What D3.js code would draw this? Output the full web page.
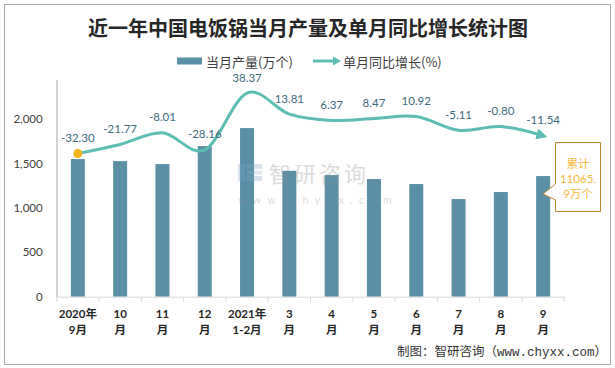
<!DOCTYPE html>
<html><head><meta charset="utf-8">
<script src="https://cdn.jsdelivr.net/npm/d3@7"></script>
<style>
html,body{margin:0;padding:0;background:#fff;}
svg{display:block;}
</style></head>
<body>
<svg id="chart" width="615" height="368"></svg>
<script>
// ---- data ----
const catLine1 = ["2020年","10","11","12","2021年","3","4","5","6","7","8","9"];
const catLine2 = ["9月","月","月","月","1-2月","月","月","月","月","月","月","月"];
const production = [1549, 1526, 1493, 1695, 1898, 1417, 1369, 1324, 1268, 1099, 1178, 1358];
const growth = [-32.30, -21.77, -8.01, -28.16, 38.37, 13.81, 6.37, 8.47, 10.92, -5.11, -0.80, -11.54];
const yTicks = [0, 500, 1000, 1500, 2000];
const seriesNames = ["当月产量(万个)", "单月同比增长(%)"];
const titleText = "近一年中国电饭锅当月产量及单月同比增长统计图";
const noteLines = ["累计", "11065.", "9万个"];
const sourceText = "制图：智研咨询（www.chyxx.com）";

const barColor = "#5B8FA6", lineColor = "#5DBDB3", labelColor = "#3E6B7C";
const numFont = "Lato, 'Noto Sans CJK SC', sans-serif";
const cjkFont = "'Noto Sans CJK SC', sans-serif";

const svg = d3.select("#chart");
const cats = catLine1.map((d,i)=>i);

// frame
svg.append("rect").attr("x",4.5).attr("y",4.5).attr("width",606).attr("height",360)
  .attr("fill","#fff").attr("stroke","#ABABAB").attr("stroke-width",1);

// scales
const x = d3.scaleBand().domain(cats).range([56.7, 564.3]).padding(0);
const y = d3.scaleLinear().domain([0, 2500]).range([296.7, 74.6]);
const y2 = d3.scaleLinear().domain([-200, 60]).range([296.7, 74.6]);

// title
svg.append("text").attr("x", 308).attr("y", 27).attr("text-anchor","middle")
  .attr("dominant-baseline","central")
  .style("font-family", cjkFont).style("font-size","20px").style("font-weight","bold")
  .attr("fill","#262626").text(titleText);

// legend
const lg = svg.append("g");
lg.append("rect").attr("x",177).attr("y",57.5).attr("width",25).attr("height",7).attr("fill",barColor);
lg.append("text").attr("x",206).attr("y",61).attr("dominant-baseline","central")
  .style("font-family",cjkFont).style("font-size","13px").attr("fill","#404040").text(seriesNames[0]);
lg.append("line").attr("x1",313).attr("x2",334).attr("y1",61).attr("y2",61)
  .attr("stroke",lineColor).attr("stroke-width",3);
lg.append("path").attr("d","M333,56.5 L341,61 L333,65.5 Z").attr("fill",lineColor);
lg.append("text").attr("x",343).attr("y",61).attr("dominant-baseline","central")
  .style("font-family",cjkFont).style("font-size","13px").attr("fill","#404040").text(seriesNames[1]);

// y axis
const yAxis = d3.axisLeft(y).tickValues(yTicks).tickSize(0).tickPadding(14)
  .tickFormat(d3.format(","));
const gy = svg.append("g").attr("transform","translate(56.7,0)").call(yAxis);
gy.select(".domain").remove();
gy.selectAll("text").style("font-family",numFont).style("font-size","11.5px").attr("fill","#404040");
svg.append("line").attr("x1",57).attr("x2",57).attr("y1",80).attr("y2",297)
  .attr("stroke","#A6A6A6").attr("stroke-width",1);

// bars
const bw = 14;
svg.append("g").selectAll("rect").data(production).join("rect")
  .attr("x",(d,i)=>x(i)+x.bandwidth()/2-bw/2)
  .attr("y",d=>y(d)).attr("width",bw).attr("height",d=>y(0)-y(d))
  .attr("fill",barColor);

// x axis
const xAxis = d3.axisBottom(x).tickSize(0).tickFormat("");
const gx = svg.append("g").attr("transform",`translate(0,${y(0)})`).call(xAxis);
gx.select(".domain").attr("stroke","#D9D9D9");
const bounds = cats.map(i=>x(i)).concat([x.range()[1]]);
svg.append("g").selectAll("line").data(bounds).join("line")
  .attr("x1",d=>d).attr("x2",d=>d).attr("y1",y(0)).attr("y2",y(0)+5)
  .attr("stroke","#D9D9D9");
const xl = svg.append("g").selectAll("g").data(cats).join("g")
  .attr("transform",i=>`translate(${x(i)+x.bandwidth()/2},0)`);
xl.append("text").attr("y",313).attr("text-anchor","middle").attr("dominant-baseline","central")
  .style("font-family",numFont).style("font-size","11.5px").style("font-weight","bold")
  .attr("fill","#262626").text(i=>catLine1[i]);
xl.append("text").attr("y",329).attr("text-anchor","middle").attr("dominant-baseline","central")
  .style("font-family",numFont).style("font-size","11.5px").style("font-weight","bold")
  .attr("fill","#262626").text(i=>catLine2[i]);

// watermark
const wm = svg.append("g").attr("opacity",0.3);
wm.append("rect").attr("x",238).attr("y",164).attr("width",7).attr("height",17).attr("fill","#7FA6C8");
wm.append("rect").attr("x",247).attr("y",164).attr("width",15).attr("height",5).attr("fill","#7FA6C8");
wm.append("rect").attr("x",247).attr("y",170.5).attr("width",15).attr("height",4).attr("fill","#9BB8D6");
wm.append("rect").attr("x",247).attr("y",176).attr("width",15).attr("height",5).attr("fill","#7FA6C8");
wm.append("text").attr("x",269).attr("y",172).attr("dominant-baseline","central")
  .style("font-family",cjkFont).style("font-size","22px").style("letter-spacing","3px")
  .attr("fill","#8C8C8C").text("智研咨询");
wm.append("text").attr("x",238).attr("y",200).attr("dominant-baseline","central")
  .style("font-family",numFont).style("font-size","10.5px").style("letter-spacing","6.5px")
  .attr("fill","#8C8C8C").text("www.chyxx.com");

// line
const defs = svg.append("defs");
defs.append("marker").attr("id","arr").attr("viewBox","0 0 10 10").attr("refX",6).attr("refY",5)
  .attr("markerWidth",11).attr("markerHeight",11).attr("markerUnits","userSpaceOnUse")
  .attr("orient","auto")
  .append("path").attr("d","M0,0 L10,5 L0,10 Z").attr("fill",lineColor);
const line = d3.line().x((d,i)=>x(i)+x.bandwidth()/2).y(d=>y2(d)).curve(d3.curveCardinal.tension(0));
svg.append("path").datum(growth).attr("d",line).attr("fill","none")
  .attr("stroke",lineColor).attr("stroke-width",3).attr("marker-end","url(#arr)");
svg.append("circle").attr("cx",x(0)+x.bandwidth()/2).attr("cy",y2(growth[0])).attr("r",4.5)
  .attr("fill","#F5B21A");

// data labels
svg.append("g").selectAll("text").data(growth).join("text")
  .attr("x",(d,i)=>x(i)+x.bandwidth()/2).attr("y",d=>y2(d)-16)
  .attr("text-anchor","middle").attr("dominant-baseline","central")
  .style("font-family",numFont).style("font-size","11.5px").attr("fill",labelColor)
  .text(d=>d.toFixed(2));

// annotation callout
svg.append("path").attr("d","M555.5,142.5 L600.5,142.5 L600.5,211.5 L555.5,211.5 L555.5,200 L543,194 L555.5,184 Z")
  .attr("fill","#fff").attr("stroke","#B8892E").attr("stroke-width",1);
svg.append("g").selectAll("text").data(noteLines).join("text")
  .attr("x",578).attr("y",(d,i)=>163+i*15).attr("text-anchor","middle").attr("dominant-baseline","central")
  .style("font-family",numFont).style("font-size","11.5px").attr("fill","#F5B63A").text(d=>d);

// source
svg.append("text").attr("x",607).attr("y",353).attr("text-anchor","end").attr("dominant-baseline","central")
  .style("font-family","'Liberation Mono', 'Noto Sans CJK SC', monospace").style("font-size","12.5px")
  .attr("fill","#333").text(sourceText);
</script>
</body></html>
